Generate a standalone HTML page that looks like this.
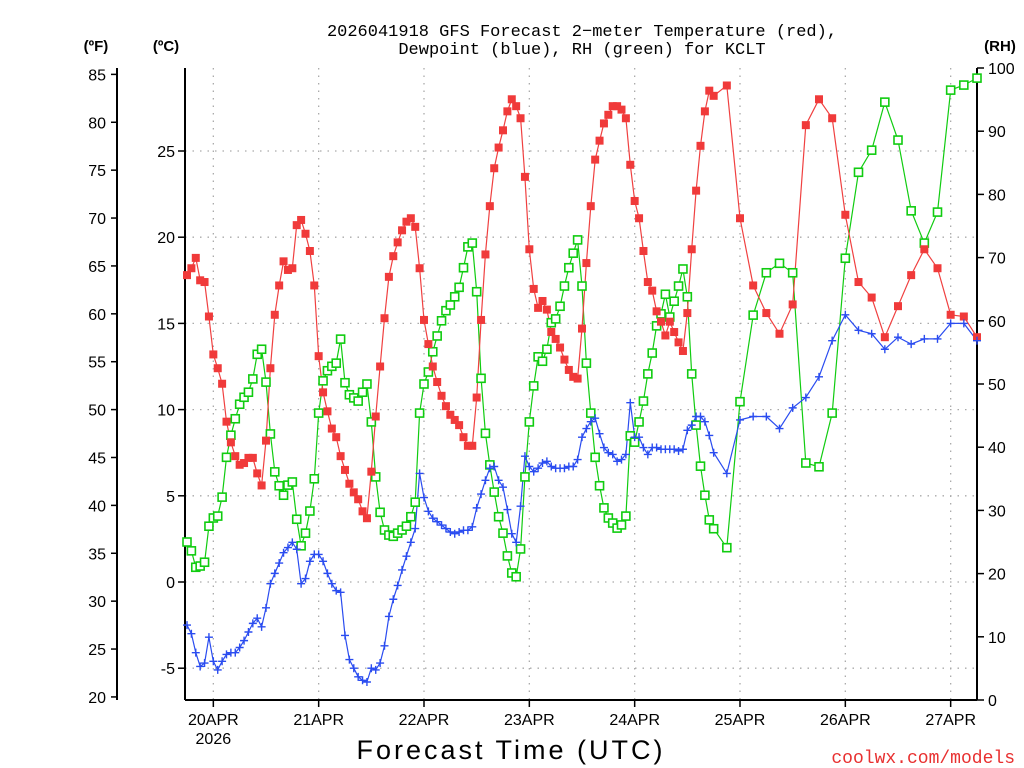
<!DOCTYPE html>
<html><head><meta charset="utf-8"><style>
body{margin:0;background:#fff;width:1024px;height:768px;overflow:hidden}
svg{display:block;font-family:"Liberation Sans",sans-serif}
</style></head><body>
<svg id="chart" width="1024" height="768">
<g id="axes"></g>
<g id="series"></g>
<text x="582" y="36" text-anchor="middle" font-size="17" font-family="Liberation Mono, monospace">2026041918 GFS Forecast 2−meter Temperature (red),</text>
<text x="582" y="54" text-anchor="middle" font-size="17" font-family="Liberation Mono, monospace">Dewpoint (blue), RH (green) for KCLT</text>
<text x="96" y="51" text-anchor="middle" font-size="15" font-weight="bold">(ºF)</text>
<text x="166" y="51" text-anchor="middle" font-size="15" font-weight="bold">(ºC)</text>
<text x="1000" y="51" text-anchor="middle" font-size="15" font-weight="bold">(RH)</text>
<text x="511" y="759" text-anchor="middle" font-size="27" letter-spacing="3">Forecast Time (UTC)</text>
<text x="1015" y="763" text-anchor="end" font-size="18" fill="#e83030" font-family="Liberation Mono, monospace">coolwx.com/models</text>
</svg>
<script>
const tempC = [17.8,18.2,18.8,17.5,17.4,15.4,13.2,12.4,11.5,9.3,8.1,7.3,6.8,6.9,7.2,7.2,6.3,5.6,8.2,12.4,15.5,17.2,18.6,18.1,18.2,20.7,21.0,20.2,19.2,17.2,13.1,11.0,9.9,8.9,8.4,7.3,6.5,5.7,5.2,4.8,4.1,3.7,6.4,9.6,12.5,15.3,17.7,18.9,19.7,20.4,20.9,21.1,20.6,18.2,15.2,13.8,12.5,11.6,10.8,10.2,9.7,9.4,9.1,8.4,7.9,7.9,10.7,15.2,19.0,21.8,24.0,25.2,26.2,27.3,28.0,27.6,26.9,23.5,19.3,17.0,15.9,16.3,15.8,14.5,14.1,13.6,12.9,12.3,11.9,11.8,14.7,18.5,21.8,24.5,25.6,26.6,27.1,27.6,27.6,27.4,26.9,24.2,22.1,21.1,19.2,17.4,16.9,15.7,15.1,14.3,15.1,14.5,13.9,13.4,15.6,19.3,22.7,25.3,27.3,28.5,28.2,
28.8,21.1,17.2,15.6,14.4,16.1,26.5,28.0,26.9,21.3,17.4,16.5,14.2,16.0,17.8,19.3,18.2,15.5,15.4,14.2];
const dewC = [-2.5,-3.0,-4.1,-4.9,-4.7,-3.2,-4.6,-5.1,-4.6,-4.2,-4.1,-4.1,-3.8,-3.4,-2.9,-2.4,-2.1,-2.6,-1.5,-0.1,0.5,1.1,1.7,2.0,2.3,1.9,-0.1,0.2,1.2,1.6,1.6,1.2,0.5,-0.1,-0.5,-0.6,-3.1,-4.5,-5.0,-5.5,-5.7,-5.8,-5.0,-5.1,-4.7,-3.7,-2.0,-1.0,-0.2,0.7,1.5,2.3,3.1,6.3,4.9,4.1,3.7,3.5,3.3,3.1,2.9,2.8,2.9,3.0,3.0,3.2,4.3,5.1,5.9,6.6,6.7,5.9,5.5,4.2,2.8,2.3,4.4,7.3,6.7,6.4,6.6,6.9,7.0,6.7,6.6,6.6,6.6,6.7,6.7,7.1,8.4,8.9,9.3,9.5,8.6,7.8,7.5,7.4,7.0,7.1,7.4,10.4,8.4,8.4,7.8,7.4,7.8,7.8,7.7,7.7,7.7,7.7,7.6,7.7,8.8,9.1,9.6,9.6,9.3,8.5,7.5,
6.3,9.4,9.6,9.6,8.9,10.1,10.7,11.9,14.0,15.5,14.6,14.4,13.5,14.2,13.8,14.1,14.1,15.0,15.0,14.0];
const rhPct = [25.0,23.6,21.0,21.2,21.8,27.5,28.8,29.1,32.1,38.4,41.9,44.5,46.8,47.9,48.7,50.8,54.7,55.5,50.3,42.1,36.1,33.9,32.4,34.0,34.5,28.6,24.4,26.4,29.9,35.0,45.4,50.5,52.1,52.8,53.3,57.1,50.2,48.3,47.8,47.3,48.7,50.0,44.0,35.3,29.7,26.9,26.1,25.9,26.4,26.9,27.5,29.0,31.3,45.4,50.0,51.9,55.1,57.6,60.0,61.6,62.5,63.8,65.3,68.4,71.7,72.3,64.6,50.9,42.2,37.2,32.9,29.0,26.4,22.8,20.1,19.5,23.9,35.3,44.0,49.7,54.3,53.6,55.5,59.7,60.3,62.3,65.5,68.4,70.7,72.8,65.5,53.3,45.4,38.4,33.9,30.4,28.8,28.0,27.2,27.7,29.1,41.8,40.8,44.0,47.3,51.6,54.9,59.2,61.1,64.2,60.6,63.1,65.5,68.2,63.8,51.6,43.5,37.0,32.4,28.5,27.1,
24.1,47.2,60.9,67.6,69.1,67.6,37.5,36.9,45.4,69.9,83.5,87.0,94.6,88.6,77.4,72.3,77.2,96.5,97.3,98.4];
const fTicks = [20,25,30,35,40,45,50,55,60,65,70,75,80,85];
const cTicks = [-5,0,5,10,15,20,25];
const rhTicks = [0,10,20,30,40,50,60,70,80,90,100];
const dayLabels = ["20APR","21APR","22APR","23APR","24APR","25APR","26APR","27APR"];
const dayHours = [6,30,54,78,102,126,150,174];
const forecastHours = [];
for (let h = 0; h <= 120; h++) forecastHours.push(h);
for (let h = 123; h <= 180; h += 3) forecastHours.push(h);

const NS = "http://www.w3.org/2000/svg";
const L = 185, R = 977, T = 68, B = 700;
const xH = h => 187 + h * (790 / 180);
const yC = c => 582 - c * 17.24;
const yF = f => yC((f - 32) * 5 / 9);
const yRH = r => B - r * (B - T) / 100;
function mk(tag, attrs, parent){const e=document.createElementNS(NS,tag);for(const k in attrs)e.setAttribute(k,attrs[k]);parent.appendChild(e);return e;}
const ax = document.getElementById('axes');
const sr = document.getElementById('series');

cTicks.forEach(c=>{
  const y=yC(c);
  const g=mk('line',{x1:L,x2:R,y1:y,y2:y,stroke:'#aaa','stroke-width':1.3,'stroke-dasharray':'1.5 6'},ax);
  
  
  const t=mk('line',{x1:L-7,x2:L,y1:y,y2:y,stroke:'#000','stroke-width':1.5},ax);
  
  
  const tx=mk('text',{x:L-10,y:y+6,'text-anchor':'end','font-size':16},ax);
  tx.textContent=c;
  
  
});
dayHours.forEach((h,i)=>{
  const x=xH(h);
  const g=mk('line',{x1:x,x2:x,y1:T,y2:B,stroke:'#aaa','stroke-width':1.3,'stroke-dasharray':'1.5 6'},ax);
  
  
  const t=mk('line',{x1:x,x2:x,y1:B,y2:B+7,stroke:'#000','stroke-width':1.5},ax);
  
  
  const tx=mk('text',{x:x,y:B+25,'text-anchor':'middle','font-size':16},ax);
  tx.textContent=dayLabels[i];
  
  
});
const yr=mk('text',{x:xH(dayHours[0]),y:B+44,'text-anchor':'middle','font-size':16},ax);
yr.textContent='2026';


fTicks.forEach(f=>{
  const y=yF(f);
  const t=mk('line',{x1:111,x2:117,y1:y,y2:y,stroke:'#000','stroke-width':1.5},ax);
  
  
  const tx=mk('text',{x:106,y:y+6,'text-anchor':'end','font-size':16},ax);
  tx.textContent=f;
  
  
});
rhTicks.forEach(r=>{
  const y=yRH(r);
  const t=mk('line',{x1:R,x2:R+7,y1:y,y2:y,stroke:'#000','stroke-width':1.5},ax);
  
  
  const tx=mk('text',{x:R+11,y:y+6,'text-anchor':'start','font-size':16},ax);
  tx.textContent=r;
  
  
});
[[117,T,117,B,'fahrenheit-axis-line'],[L,T,L,B,'celsius-axis-line'],[R,T,R,B,'rh-axis-line'],[L,B,R,B,'x-axis-line']].forEach(a=>{
  const l=mk('line',{x1:a[0],y1:a[1],x2:a[2],y2:a[3],stroke:'#000','stroke-width':2},ax);
  
  
});

function drawLine(vals, yf, color, name){
  const pts=vals.map((v,i)=>xH(forecastHours[i]).toFixed(1)+','+yf(v).toFixed(1)).join(' ');
  const p=mk('polyline',{points:pts,fill:'none',stroke:color,'stroke-width':1.2},sr);
  
  
}
drawLine(rhPct,yRH,'#10cc10','rh-line');
drawLine(tempC,yC,'#f04040','temperature-line');
drawLine(dewC,yC,'#2a4cf0','dewpoint-line');
rhPct.forEach((v,i)=>{
  const x=xH(forecastHours[i]),y=yRH(v);
  const m=mk('rect',{x:x-4,y:y-4,width:8,height:8,fill:'#fff',stroke:'#10cc10','stroke-width':1.6},sr);
  
  
});
tempC.forEach((v,i)=>{
  const x=xH(forecastHours[i]),y=yC(v);
  const m=mk('rect',{x:x-4,y:y-4,width:8,height:8,fill:'#f03a3a'},sr);
  
  
});
dewC.forEach((v,i)=>{
  const x=xH(forecastHours[i]),y=yC(v);
  const m=mk('path',{d:`M${x-4} ${y}H${x+4}M${x} ${y-4}V${y+4}`,stroke:'#2a4cf0','stroke-width':1.4,fill:'none'},sr);
  
  
});
</script>
</body></html>
